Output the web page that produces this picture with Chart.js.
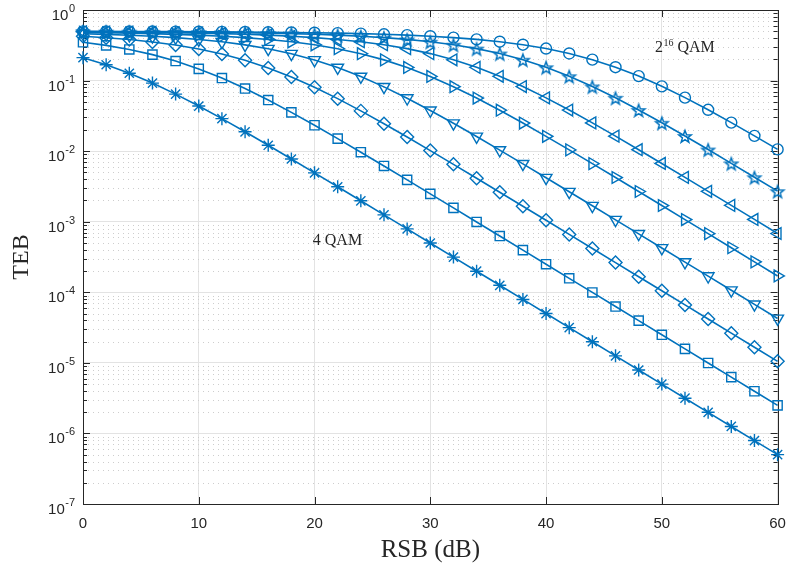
<!DOCTYPE html>
<html>
<head>
<meta charset="utf-8">
<script src="https://cdn.jsdelivr.net/npm/chart.js@4.4.1/dist/chart.umd.min.js"></script>
<style>
  html, body { margin: 0; padding: 0; background: #fff; }
  #wrap { width: 786px; height: 565px; }
</style>
</head>
<body>
<div id="wrap"><canvas id="ber" width="786" height="565"></canvas></div>
<script>
// RSB (dB)
const snr = [0, 2, 4, 6, 8, 10, 12, 14, 16, 18, 20, 22, 24, 26, 28, 30, 32, 34, 36, 38, 40, 42, 44, 46, 48, 50, 52, 54, 56, 58, 60];

// TEB per constellation
const ber4 = [0.2113, 0.1676, 0.1269, 0.09208, 0.06431, 0.04356, 0.02885, 0.01879, 0.01211, 0.007741, 0.004926, 0.003125, 0.001979, 0.001251, 7.906e-4, 4.993e-4, 3.152e-4, 1.989e-4, 1.256e-4, 7.922e-5, 4.999e-5, 3.155e-5, 1.991e-5, 1.256e-5, 7.924e-6, 5.000e-6, 3.155e-6, 1.991e-6, 1.256e-6, 7.924e-7, 5.000e-7];
const ber16 = [0.3492, 0.3151, 0.2760, 0.2332, 0.1890, 0.1464, 0.1085, 0.07714, 0.05300, 0.03546, 0.02327, 0.01506, 0.009665, 0.006164, 0.003916, 0.002481, 0.001570, 9.923e-4, 6.268e-4, 3.958e-4, 2.498e-4, 1.577e-4, 9.950e-5, 6.279e-5, 3.962e-5, 2.500e-5, 1.577e-5, 9.953e-6, 6.280e-6, 3.962e-6, 2.500e-6];
const ber64 = [0.4238, 0.4047, 0.3812, 0.3529, 0.3193, 0.2807, 0.2383, 0.1941, 0.1512, 0.1126, 0.08041, 0.05545, 0.03720, 0.02446, 0.01585, 0.01018, 0.006496, 0.004128, 0.002617, 0.001656, 0.001047, 6.612e-4, 4.175e-4, 2.635e-4, 1.663e-4, 1.050e-4, 6.624e-5, 4.180e-5, 2.637e-5, 1.664e-5, 1.050e-5];
const ber256 = [0.4618, 0.4519, 0.4397, 0.4244, 0.4054, 0.3821, 0.3540, 0.3206, 0.2822, 0.2399, 0.1957, 0.1527, 0.1139, 0.08144, 0.05622, 0.03775, 0.02483, 0.01611, 0.01035, 0.006603, 0.004197, 0.002660, 0.001683, 0.001064, 6.722e-4, 4.245e-4, 2.679e-4, 1.691e-4, 1.067e-4, 6.734e-5, 4.250e-5];
const ber1024 = [0.4809, 0.4759, 0.4697, 0.4619, 0.4521, 0.4399, 0.4246, 0.4058, 0.3826, 0.3545, 0.3212, 0.2829, 0.2406, 0.1964, 0.1534, 0.1145, 0.08193, 0.05658, 0.03801, 0.02501, 0.01622, 0.01042, 0.006653, 0.004229, 0.002681, 0.001696, 0.001072, 6.774e-4, 4.277e-4, 2.700e-4, 1.704e-4];
const ber4096 = [0.4904, 0.4880, 0.4848, 0.4809, 0.4760, 0.4698, 0.4620, 0.4523, 0.4401, 0.4249, 0.4060, 0.3829, 0.3549, 0.3216, 0.2834, 0.2411, 0.1970, 0.1539, 0.1149, 0.08227, 0.05685, 0.03819, 0.02514, 0.01631, 0.01048, 0.006688, 0.004252, 0.002695, 0.001706, 0.001078, 6.811e-4];
const ber16384 = [0.4952, 0.4940, 0.4924, 0.4905, 0.4880, 0.4849, 0.4810, 0.4760, 0.4699, 0.4621, 0.4524, 0.4402, 0.4250, 0.4062, 0.3832, 0.3552, 0.3220, 0.2838, 0.2416, 0.1974, 0.1543, 0.1153, 0.08258, 0.05708, 0.03836, 0.02525, 0.01639, 0.01053, 0.006721, 0.004272, 0.002708];
const ber65536 = [0.4976, 0.4970, 0.4962, 0.4952, 0.4940, 0.4924, 0.4905, 0.4880, 0.4849, 0.4810, 0.4761, 0.4699, 0.4622, 0.4525, 0.4403, 0.4252, 0.4065, 0.3834, 0.3555, 0.3224, 0.2842, 0.2420, 0.1979, 0.1548, 0.1157, 0.08288, 0.05731, 0.03853, 0.02537, 0.01646, 0.01058];

// axes ticks
const xTicks = [0, 10, 20, 30, 40, 50, 60];
const yExps = [-7, -6, -5, -4, -3, -2, -1, 0];

// text labels (anchored in data coordinates)
const topLabel = { x: 49.4, y: 0.252, base: '2', sup: '16', rest: ' QAM' };
const lowLabel = { x: 19.85, y: 4.65e-4, text: '4 QAM' };

const BLUE = '#0072BD';
const AXIS = '#262626';
const SERIF = '"Liberation Serif", "Times New Roman", serif';
const SANS = '"Liberation Sans", Arial, sans-serif';

const pentagram = (r) => {
	const c = document.createElement('canvas');
	const s = 2 * Math.ceil(r + 2);
	c.width = c.height = s;
	const g = c.getContext('2d');
	g.strokeStyle = BLUE;
	g.lineWidth = 1.5;
	g.lineJoin = 'miter';
	g.beginPath();
	for (let i = 0; i < 10; i++) {
		const rad = i % 2 ? r * 0.42 : r;
		const ang = -Math.PI / 2 + i * Math.PI / 5;
		const px = s / 2 + rad * Math.cos(ang);
		const py = s / 2 + 1 + rad * Math.sin(ang);
		i ? g.lineTo(px, py) : g.moveTo(px, py);
	}
	g.closePath();
	g.stroke();
	return c;
};

const series = (data, style, radius, rotation = 0) => ({
	data: data.map((v, i) => ({ x: snr[i], y: v })),
	borderColor: BLUE,
	borderWidth: 1.6,
	pointStyle: style,
	pointRadius: radius,
	pointRotation: rotation,
	pointBorderColor: BLUE,
	pointBackgroundColor: 'rgba(0,0,0,0)',
	pointBorderWidth: 1.4,
	fill: false,
	tension: 0,
	clip: false
});

const line = (ctx, x1, y1, x2, y2) => {
	ctx.beginPath();
	ctx.moveTo(x1, y1);
	ctx.lineTo(x2, y2);
	ctx.stroke();
};

const matlabAxes = {
	id: 'matlabAxes',
	beforeDatasetsDraw(chart) {
		const { ctx, chartArea: a, scales: { x, y } } = chart;
		ctx.save();

		// minor y grid, dotted
		ctx.strokeStyle = '#cdcdcd';
		ctx.lineWidth = 1;
		ctx.setLineDash([1, 4]);
		yExps.slice(0, -1).forEach((e) => {
			for (let m = 2; m <= 9; m++) {
				const py = Math.round(y.getPixelForValue(m * Math.pow(10, e))) + 0.5;
				line(ctx, a.left, py, a.right, py);
			}
		});
		ctx.setLineDash([]);

		// box
		ctx.strokeStyle = AXIS;
		ctx.lineWidth = 1;
		ctx.strokeRect(Math.round(a.left) + 0.5, Math.round(a.top) + 0.5, Math.round(a.right - a.left), Math.round(a.bottom - a.top));

		// y ticks (inside, both sides)
		yExps.forEach((e) => {
			const py = Math.round(y.getPixelForValue(Math.pow(10, e))) + 0.5;
			line(ctx, a.left, py, a.left + 7, py);
			line(ctx, a.right - 7, py, a.right, py);
			if (e < 0) {
				for (let m = 2; m <= 9; m++) {
					const pm = Math.round(y.getPixelForValue(m * Math.pow(10, e))) + 0.5;
					line(ctx, a.left, pm, a.left + 4, pm);
					line(ctx, a.right - 4, pm, a.right, pm);
				}
			}
		});
		// x ticks (inside, top and bottom)
		xTicks.forEach((v) => {
			const px = Math.round(x.getPixelForValue(v)) + 0.5;
			line(ctx, px, a.bottom, px, a.bottom - 7);
			line(ctx, px, a.top, px, a.top + 7);
		});

		// tick labels
		ctx.fillStyle = AXIS;
		ctx.textBaseline = 'alphabetic';
		ctx.textAlign = 'center';
		ctx.font = '15px ' + SANS;
		xTicks.forEach((v) => {
			ctx.fillText(String(v), x.getPixelForValue(v), a.bottom + 24);
		});
		ctx.textAlign = 'right';
		yExps.forEach((e) => {
			const py = y.getPixelForValue(Math.pow(10, e));
			const right = a.left - 8;
			ctx.font = '11px ' + SANS;
			const ew = ctx.measureText(String(e)).width;
			ctx.fillText(String(e), right, py + 2);
			ctx.font = '15px ' + SANS;
			ctx.fillText('10', right - ew - 0.5, py + 10);
		});

		// curve labels
		ctx.textAlign = 'left';
		let px = x.getPixelForValue(topLabel.x);
		const py = y.getPixelForValue(topLabel.y);
		ctx.font = '16px ' + SERIF;
		ctx.fillText(topLabel.base, px, py);
		px += ctx.measureText(topLabel.base).width + 0.5;
		ctx.font = '10px ' + SERIF;
		ctx.fillText(topLabel.sup, px, py - 6);
		px += ctx.measureText(topLabel.sup).width;
		ctx.font = '16px ' + SERIF;
		ctx.fillText(topLabel.rest, px, py);

		ctx.font = '16px ' + SERIF;
		ctx.fillText(lowLabel.text, x.getPixelForValue(lowLabel.x), y.getPixelForValue(lowLabel.y));

		ctx.restore();
	}
};

document.addEventListener('DOMContentLoaded', () => {
	const el = document.getElementById('ber');
	new Chart(el, {
		type: 'line',
		data: {
			datasets: [
				series(ber4, 'star', 6.5),
				series(ber16, 'rect', 6.5),
				series(ber64, 'rectRot', 6.5),
				series(ber256, 'triangle', 6.8, 180),
				series(ber1024, 'triangle', 6.8, 90),
				series(ber4096, 'triangle', 6.8, 270),
				series(ber16384, pentagram(6.5), 7),
				series(ber65536, 'circle', 5.5)
			]
		},
		options: {
			responsive: false,
			animation: false,
			layout: { padding: { left: 0, right: 8, top: 10, bottom: 0 } },
			plugins: { legend: { display: false }, tooltip: { enabled: false } },
			scales: {
				x: {
					type: 'linear',
					min: 0,
					max: 60,
					afterBuildTicks: (s) => { s.ticks = xTicks.map(v => ({ value: v })); },
					afterFit: (s) => { s.height = 61; },
					ticks: { display: false },
					border: { display: false },
					grid: { color: '#e3e3e3', lineWidth: 1, drawTicks: false },
					title: {
						display: true,
						text: 'RSB (dB)',
						color: AXIS,
						font: { family: SERIF, size: 25 },
						padding: { top: 3, bottom: 0 }
					}
				},
				y: {
					type: 'logarithmic',
					min: 1e-7,
					max: 1,
					afterBuildTicks: (s) => { s.ticks = yExps.map(e => ({ value: Math.pow(10, e) })); },
					afterFit: (s) => { s.width = 83; },
					ticks: { display: false },
					border: { display: false },
					grid: { color: '#e3e3e3', lineWidth: 1, drawTicks: false },
					title: {
						display: true,
						text: 'TEB',
						color: AXIS,
						font: { family: SERIF, size: 24 },
						padding: { top: 7, bottom: 0 }
					}
				}
			}
		},
		plugins: [matlabAxes]
	});
});
</script>
</body>
</html>
